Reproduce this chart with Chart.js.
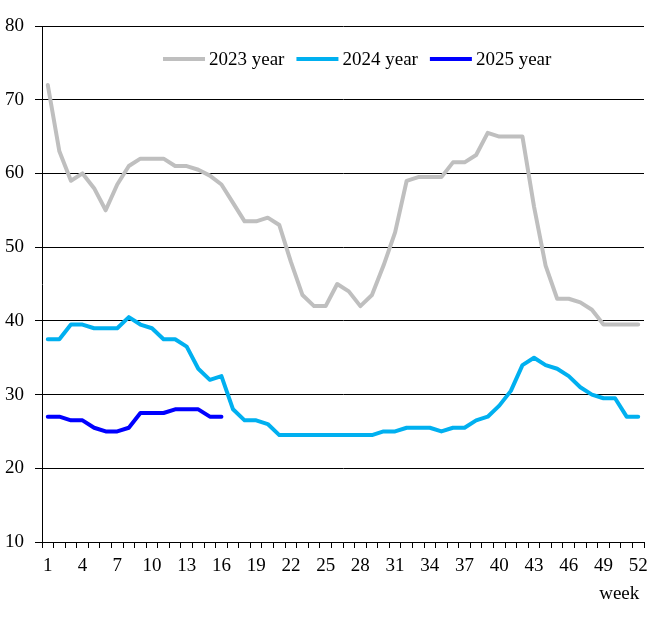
<!DOCTYPE html>
<html lang="en">
<head>
  <meta charset="UTF-8">
  <title>Weekly values 2023-2025</title>
  <style>
    body {
      margin: 0;
      background: #ffffff;
    }
    #wrap {
      width: 660px;
      height: 620px;
      position: relative;
    }
  </style>
</head>
<body>

  <div id="wrap">
    <canvas id="chartCanvas"></canvas>
  </div>

  <script src="https://cdn.jsdelivr.net/npm/chart.js"></script>

  <script>
    const weeks = [];
    for (let w = 1; w <= 52; w++) weeks.push(String(w));

    const year2023 = [
      72, 63, 59, 60, 58, 55, 58.5, 61, 62, 62, 62, 61, 61, 60.5, 59.7, 58.5,
      56, 53.5, 53.5, 54, 53, 48, 43.5, 42, 42, 45, 44, 42, 43.5, 47.5, 52, 59,
      59.5, 59.5, 59.5, 61.5, 61.5, 62.5, 65.5, 65, 65, 65, 55.5, 47.5, 43, 43,
      42.5, 41.5, 39.5, 39.5, 39.5, 39.5
    ];
    const year2024 = [
      37.5, 37.5, 39.5, 39.5, 39, 39, 39, 40.5, 39.5, 39, 37.5, 37.5, 36.5, 33.5, 32, 32.5,
      28, 26.5, 26.5, 26, 24.5, 24.5, 24.5, 24.5, 24.5, 24.5, 24.5, 24.5, 24.5, 25, 25, 25.5,
      25.5, 25.5, 25, 25.5, 25.5, 26.5, 27, 28.5, 30.5, 34, 35, 34, 33.5, 32.5,
      31, 30, 29.5, 29.5, 27, 27
    ];
    const year2025 = [
      27, 27, 26.5, 26.5, 25.5, 25, 25, 25.5, 27.5, 27.5, 27.5, 28, 28, 28, 27, 27
    ];

    const seriesNames = ['2023 year', '2024 year', '2025 year'];
    const seriesColors = ['#bfbfbf', '#00b0f0', '#0000ff'];
    const yTicks = [10, 20, 30, 40, 50, 60, 70, 80];

    const fontFamily = '"Liberation Serif", "Times New Roman", serif';
    const font = { family: fontFamily, size: 19 };

    const datasets = [year2023, year2024, year2025].map((data, i) => ({
      label: seriesNames[i],
      data: data,
      borderColor: seriesColors[i],
      backgroundColor: seriesColors[i],
      borderWidth: 4,
      pointRadius: 0,
      tension: 0,
      borderJoinStyle: 'round',
      borderCapStyle: 'round'
    }));

    // legend drawn inside the plot, one row under the top gridline
    const innerLegend = {
      id: 'innerLegend',
      afterDraw(chart) {
        const c = chart.ctx;
        const area = chart.chartArea;
        let x = area.left + 121;
        const y = area.top + 33;
        c.save();
        c.font = '19px ' + fontFamily;
        c.textBaseline = 'middle';
        c.fillStyle = '#000000';
        chart.data.datasets.forEach(ds => {
          c.strokeStyle = ds.borderColor;
          c.lineWidth = 4;
          c.beginPath();
          c.moveTo(x, y);
          c.lineTo(x + 42, y);
          c.stroke();
          x += 46;
          c.fillText(ds.label, x, y + 1);
          x += c.measureText(ds.label).width + 12;
        });
        c.restore();
      }
    };

    const ctx = document.getElementById('chartCanvas').getContext('2d');
    new Chart(ctx, {
      type: 'line',
      data: { labels: weeks, datasets: datasets },
      plugins: [innerLegend],
      options: {
        responsive: true,
        maintainAspectRatio: false,
        animation: false,
        layout: { padding: { top: 26, right: 16, left: 0, bottom: 0 } },
        plugins: {
          tooltip: { enabled: false },
          legend: { display: false }
        },
        scales: {
          x: {
            offset: true,
            afterFit: (scale) => { scale.height = 78; },
            border: { color: '#000000', width: 1 },
            grid: {
              drawOnChartArea: false,
              drawTicks: true,
              tickLength: 6,
              offset: true,
              color: '#000000'
            },
            ticks: {
              autoSkip: false,
              maxRotation: 0,
              padding: 7,
              color: '#000000',
              font: font,
              callback: function (value, index) {
                return index % 3 === 0 ? weeks[index] : '';
              }
            },
            title: {
              display: true,
              text: 'week ',
              align: 'end',
              color: '#000000',
              font: font,
              padding: { top: 0, bottom: 15 }
            }
          },
          y: {
            min: yTicks[0],
            max: yTicks[yTicks.length - 1],
            afterFit: (scale) => { scale.width = 42; },
            afterBuildTicks: (scale) => { scale.ticks = yTicks.map(v => ({ value: v })); },
            border: { color: '#000000', width: 1 },
            grid: {
              color: '#000000',
              lineWidth: 1,
              tickLength: 7
            },
            ticks: {
              padding: 11,
              color: '#000000',
              font: font
            }
          }
        }
      }
    });
  </script>

</body>
</html>
